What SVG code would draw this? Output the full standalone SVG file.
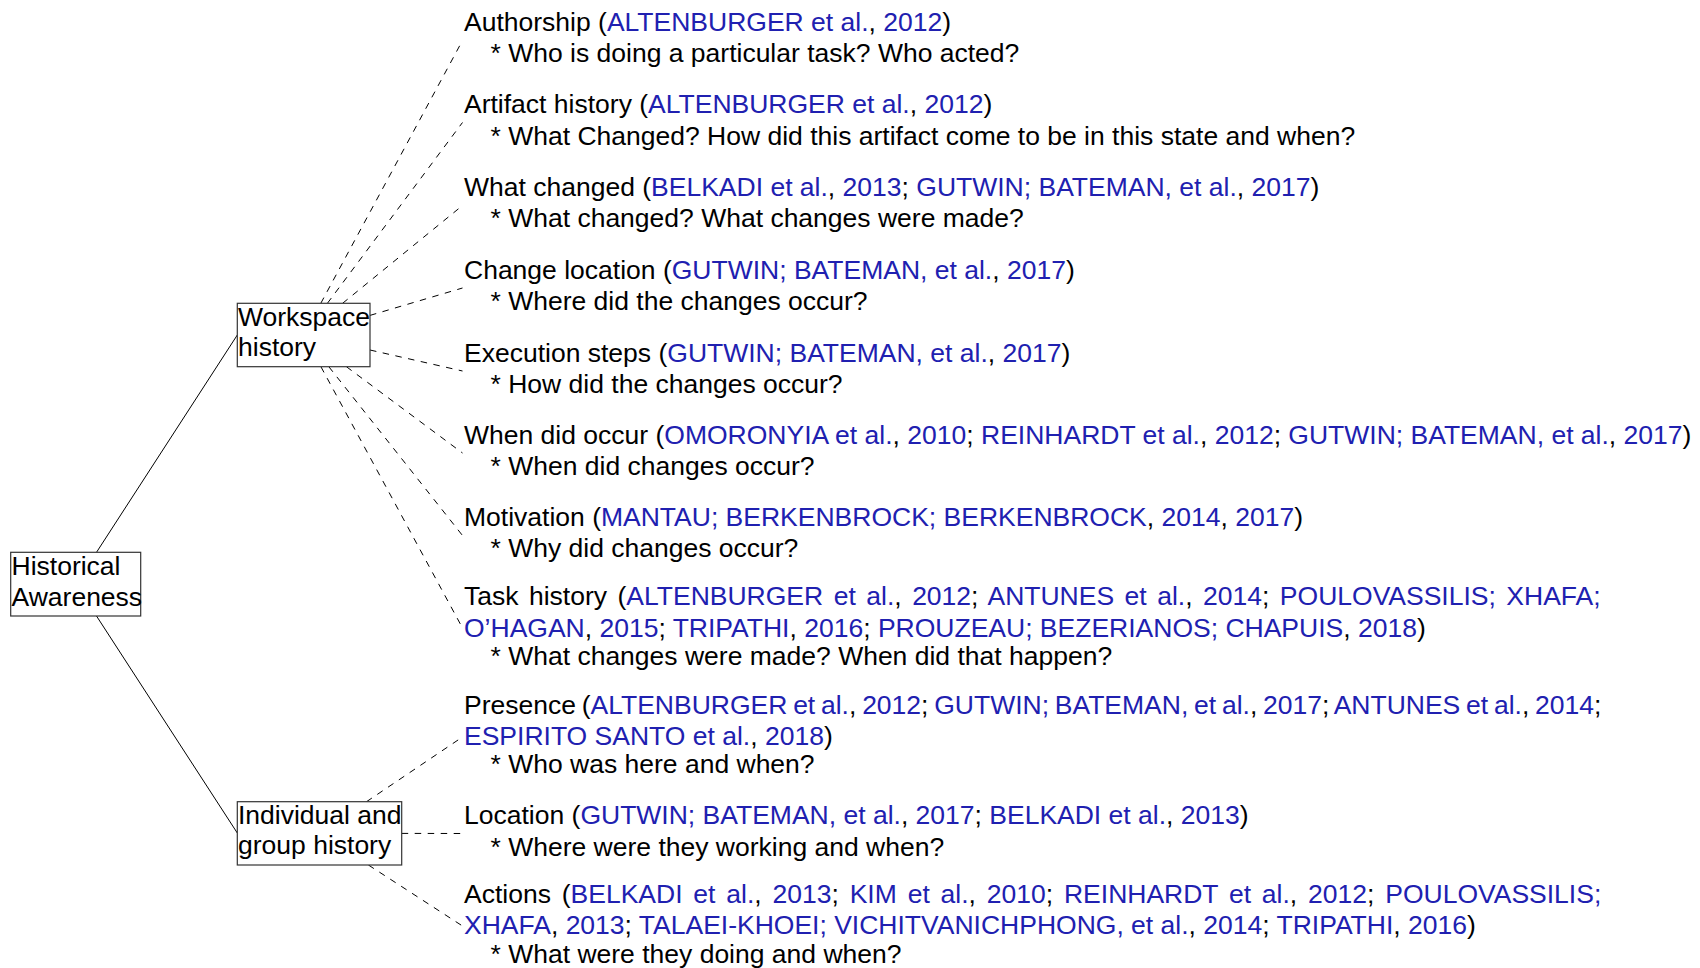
<svg xmlns="http://www.w3.org/2000/svg" width="1700" height="968" viewBox="0 0 1700 968">
  <style>
    text { font-family: "Liberation Sans", Arial, Helvetica, sans-serif; font-size: 26.5px; fill: #000; }
    .c { fill: #2020b0; }
    .box { fill: #fff; stroke: #333; stroke-width: 1.2; }
    .solid { stroke: #000; stroke-width: 1; fill: none; }
    .dash { stroke: #000; stroke-width: 1; fill: none; stroke-dasharray: 6.5 6.5; }
  </style>
  <rect width="1700" height="968" fill="#fff"/>

  <!-- connectors: parent centre to child west anchor, clipped at the parent box -->
  <g id="edges">
    <line class="solid" x1="96.5" y1="552.3" x2="237.3" y2="335"/>
    <line class="solid" x1="96.5" y1="616" x2="237.3" y2="833"/>
    <line class="dash" x1="320.8" y1="303.3" x2="462.5" y2="40.5"/>
    <line class="dash" x1="327.4" y1="303.3" x2="462.5" y2="122.5"/>
    <line class="dash" x1="342.6" y1="303.3" x2="462.5" y2="205.5"/>
    <line class="dash" x1="370" y1="315.4" x2="462.5" y2="288"/>
    <line class="dash" x1="370" y1="350" x2="462.5" y2="371"/>
    <line class="dash" x1="346.4" y1="366.7" x2="462.5" y2="453"/>
    <line class="dash" x1="328.8" y1="366.7" x2="462.5" y2="535.5"/>
    <line class="dash" x1="320.9" y1="366.7" x2="462.5" y2="628"/>
    <line class="dash" x1="366.5" y1="801.7" x2="462.5" y2="737"/>
    <line class="dash" x1="401.7" y1="833.4" x2="462.5" y2="833.5"/>
    <line class="dash" x1="368.4" y1="865" x2="462.5" y2="926"/>
  </g>

  <!-- root -->
  <g id="historical-awareness">
    <rect class="box" x="10.7" y="552.3" width="130" height="63.7"/>
    <text x="11.5" y="575">Historical</text>
    <text x="11.5" y="605.5">Awareness</text>
  </g>

  <!-- branches -->
  <g id="workspace-history">
    <rect class="box" x="237.3" y="303.3" width="132.7" height="63.4"/>
    <text x="238" y="326">Workspace</text>
    <text x="238" y="355.7">history</text>
  </g>
  <g id="individual-group-history">
    <rect class="box" x="237.3" y="801.7" width="164.4" height="63.3"/>
    <text x="238" y="824.3">Individual and</text>
    <text x="238" y="854.3">group history</text>
  </g>

  <!-- leaves: workspace history -->
  <g id="authorship">
    <text x="464" y="31">Authorship (<tspan class="c">ALTENBURGER et al.</tspan>, <tspan class="c">2012</tspan>)</text>
    <text x="490.5" y="62">* Who is doing a particular task? Who acted?</text>
  </g>
  <g id="artifact-history">
    <text x="464" y="113">Artifact history (<tspan class="c">ALTENBURGER et al.</tspan>, <tspan class="c">2012</tspan>)</text>
    <text x="490.5" y="144.5">* What Changed? How did this artifact come to be in this state and when?</text>
  </g>
  <g id="what-changed">
    <text x="464" y="196">What changed (<tspan class="c">BELKADI et al.</tspan>, <tspan class="c">2013</tspan>; <tspan class="c">GUTWIN; BATEMAN, et al.</tspan>, <tspan class="c">2017</tspan>)</text>
    <text x="490.5" y="227">* What changed? What changes were made?</text>
  </g>
  <g id="change-location">
    <text x="464" y="278.5">Change location (<tspan class="c">GUTWIN; BATEMAN, et al.</tspan>, <tspan class="c">2017</tspan>)</text>
    <text x="490.5" y="309.5">* Where did the changes occur?</text>
  </g>
  <g id="execution-steps">
    <text x="464" y="361.5">Execution steps (<tspan class="c">GUTWIN; BATEMAN, et al.</tspan>, <tspan class="c">2017</tspan>)</text>
    <text x="490.5" y="392.5">* How did the changes occur?</text>
  </g>
  <g id="when-did-occur">
    <text x="464" y="443.5">When did occur (<tspan class="c">OMORONYIA et al.</tspan>, <tspan class="c">2010</tspan>; <tspan class="c">REINHARDT et al.</tspan>, <tspan class="c">2012</tspan>; <tspan class="c">GUTWIN; BATEMAN, et al.</tspan>, <tspan class="c">2017</tspan>)</text>
    <text x="490.5" y="474.5">* When did changes occur?</text>
  </g>
  <g id="motivation">
    <text x="464" y="526">Motivation (<tspan class="c">MANTAU; BERKENBROCK; BERKENBROCK</tspan>, <tspan class="c">2014</tspan>, <tspan class="c">2017</tspan>)</text>
    <text x="490.5" y="557">* Why did changes occur?</text>
  </g>
  <!-- wrapped first lines are justified to a common right margin -->
  <g id="task-history">
    <text x="464" y="605" word-spacing="3.13">Task history (<tspan class="c">ALTENBURGER et al.</tspan>, <tspan class="c">2012</tspan>; <tspan class="c">ANTUNES et al.</tspan>, <tspan class="c">2014</tspan>; <tspan class="c">POULOVASSILIS; XHAFA;</tspan></text>
    <text x="464" y="636.5"><tspan class="c">O’HAGAN</tspan>, <tspan class="c">2015</tspan>; <tspan class="c">TRIPATHI</tspan>, <tspan class="c">2016</tspan>; <tspan class="c">PROUZEAU; BEZERIANOS; CHAPUIS</tspan>, <tspan class="c">2018</tspan>)</text>
    <text x="490.5" y="664.5">* What changes were made? When did that happen?</text>
  </g>

  <!-- leaves: individual and group history -->
  <g id="presence">
    <text x="464" y="714" word-spacing="-1.6">Presence (<tspan class="c">ALTENBURGER et al.</tspan>, <tspan class="c">2012</tspan>; <tspan class="c">GUTWIN; BATEMAN, et al.</tspan>, <tspan class="c">2017</tspan>; <tspan class="c">ANTUNES et al.</tspan>, <tspan class="c">2014</tspan>;</text>
    <text x="464" y="745"><tspan class="c">ESPIRITO SANTO et al.</tspan>, <tspan class="c">2018</tspan>)</text>
    <text x="490.5" y="773">* Who was here and when?</text>
  </g>
  <g id="location">
    <text x="464" y="824">Location (<tspan class="c">GUTWIN; BATEMAN, et al.</tspan>, <tspan class="c">2017</tspan>; <tspan class="c">BELKADI et al.</tspan>, <tspan class="c">2013</tspan>)</text>
    <text x="490.5" y="855.5">* Where were they working and when?</text>
  </g>
  <g id="actions">
    <text x="464" y="903" word-spacing="3.48">Actions (<tspan class="c">BELKADI et al.</tspan>, <tspan class="c">2013</tspan>; <tspan class="c">KIM et al.</tspan>, <tspan class="c">2010</tspan>; <tspan class="c">REINHARDT et al.</tspan>, <tspan class="c">2012</tspan>; <tspan class="c">POULOVASSILIS;</tspan></text>
    <text x="464" y="934"><tspan class="c">XHAFA</tspan>, <tspan class="c">2013</tspan>; <tspan class="c">TALAEI-KHOEI; VICHITVANICHPHONG, et al.</tspan>, <tspan class="c">2014</tspan>; <tspan class="c">TRIPATHI</tspan>, <tspan class="c">2016</tspan>)</text>
    <text x="490.5" y="962.5">* What were they doing and when?</text>
  </g>
</svg>
